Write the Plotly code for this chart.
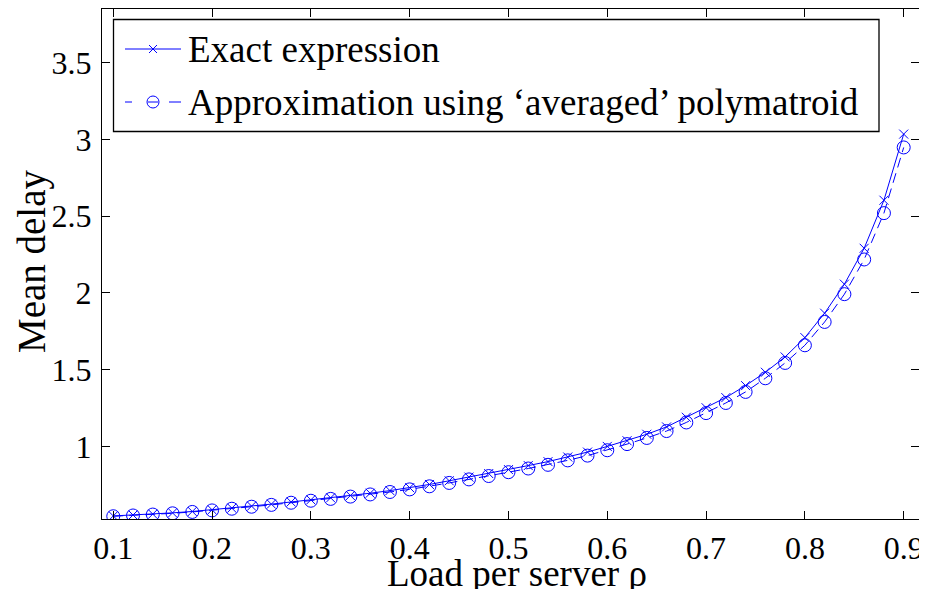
import plotly.graph_objects as go

load = [round(0.10 + 0.02 * i, 2) for i in range(41)]

exact_delay = [0.547, 0.553, 0.559, 0.567, 0.576, 0.587, 0.598, 0.611, 0.624, 0.638,
               0.652, 0.665, 0.680, 0.695, 0.712, 0.731, 0.752, 0.776, 0.800, 0.823,
               0.849, 0.875, 0.901, 0.931, 0.963, 1.000, 1.037, 1.079, 1.127, 1.190,
               1.252, 1.318, 1.396, 1.483, 1.583, 1.709, 1.868, 2.057, 2.291, 2.604,
               3.035]

approx_delay = [0.545, 0.550, 0.556, 0.564, 0.573, 0.583, 0.594, 0.607, 0.619, 0.633,
                0.646, 0.658, 0.673, 0.687, 0.703, 0.720, 0.740, 0.762, 0.785, 0.807,
                0.832, 0.856, 0.880, 0.909, 0.940, 0.975, 1.015, 1.055, 1.100, 1.156,
                1.217, 1.283, 1.355, 1.444, 1.544, 1.659, 1.811, 1.992, 2.218, 2.520,
                2.948]

x_ticks = [0.1, 0.2, 0.3, 0.4, 0.5, 0.6, 0.7, 0.8, 0.9]
x_tick_text = ["0.1", "0.2", "0.3", "0.4", "0.5", "0.6", "0.7", "0.8", "0.9"]
y_ticks = [1, 1.5, 2, 2.5, 3, 3.5]
y_tick_text = ["1", "1.5", "2", "2.5", "3", "3.5"]

legend_names = ["Exact expression", "Approximation using \u2018averaged\u2019 polymatroid"]
x_title = "Load per server \u03c1"
y_title = "Mean delay"

BLUE = "#0000ff"
FONT = "Liberation Serif"
OFF = 8  # page body margin in the browser
W, H = 927 - OFF, 589 - OFF
ML, MR, MT, MB = 94, 8, 1, 70
PW, PH = W - ML - MR, H - MT - MB


def px(x):
    # screen pixel x -> paper coordinate
    return (x - OFF - ML) / PW


def py(y):
    # screen pixel y -> paper coordinate
    return (H - MB - (y - OFF)) / PH


fig = go.Figure()
fig.add_trace(go.Scatter(
    x=load, y=exact_delay, mode="lines+markers", name=legend_names[0],
    line=dict(color=BLUE, width=1),
    marker=dict(symbol="x-thin-open", size=9, color=BLUE, line=dict(color=BLUE, width=1)),
    showlegend=False,
))
fig.add_trace(go.Scatter(
    x=load, y=approx_delay, mode="lines+markers", name=legend_names[1],
    line=dict(color=BLUE, width=1, dash="10px,6px"),
    marker=dict(symbol="circle-open", size=13, color=BLUE, line=dict(color=BLUE, width=1)),
    showlegend=False,
))

shapes = []
# legend box
shapes.append(dict(type="rect", xref="paper", yref="paper",
                   x0=px(113.5), x1=px(879), y0=py(19.5), y1=py(131.5),
                   line=dict(color="black", width=1.3), fillcolor="white", layer="above"))
# row 1: solid line with x
shapes.append(dict(type="line", xref="paper", yref="paper",
                   x0=px(125), x1=px(181), y0=py(49), y1=py(49),
                   line=dict(color=BLUE, width=1), layer="above"))
for dx0, dy0, dx1, dy1 in [(-4, -4, 4, 4), (-4, 4, 4, -4)]:
    shapes.append(dict(type="line", xref="paper", yref="paper",
                       xsizemode="pixel", ysizemode="pixel",
                       xanchor=px(153), yanchor=py(49),
                       x0=dx0, x1=dx1, y0=dy0, y1=dy1,
                       line=dict(color=BLUE, width=1), layer="above"))
# row 2: dashed line with circle
for a, b in [(125, 132), (169, 181)]:
    shapes.append(dict(type="line", xref="paper", yref="paper",
                       x0=px(a), x1=px(b), y0=py(102), y1=py(102),
                       line=dict(color=BLUE, width=1), layer="above"))
shapes.append(dict(type="line", xref="paper", yref="paper",
                   x0=px(148), x1=px(158), y0=py(102), y1=py(102),
                   line=dict(color=BLUE, width=1), layer="above"))
shapes.append(dict(type="circle", xref="paper", yref="paper",
                   xsizemode="pixel", ysizemode="pixel",
                   xanchor=px(153), yanchor=py(102),
                   x0=-6, x1=6, y0=-6, y1=6,
                   line=dict(color=BLUE, width=1), layer="above"))

annotations = [
    dict(text=legend_names[0], xref="paper", yref="paper", x=px(186), y=py(49),
         xanchor="left", yanchor="middle", showarrow=False,
         font=dict(family=FONT, size=37, color="black")),
    dict(text=legend_names[1], xref="paper", yref="paper", x=px(186), y=py(102),
         xanchor="left", yanchor="middle", showarrow=False,
         font=dict(family=FONT, size=37, color="black")),
    dict(text=x_title, xref="paper", yref="paper", x=px(517), y=py(573),
         xanchor="center", yanchor="middle", showarrow=False,
         font=dict(family=FONT, size=37, color="black")),
    dict(text=y_title, xref="paper", yref="paper", x=px(32), y=py(261),
         xanchor="center", yanchor="middle", showarrow=False, textangle=-90,
         font=dict(family=FONT, size=39, color="black")),
]

axis_common = dict(
    showgrid=False, zeroline=False, showline=True, linecolor="black", linewidth=1.3,
    mirror="ticks", ticks="inside", ticklen=8, tickcolor="black", tickwidth=1,
    tickfont=dict(family=FONT, size=32, color="black"), automargin=False,
)

fig.update_layout(
    width=W, height=H,
    margin=dict(l=ML, r=MR, t=MT, b=MB),
    paper_bgcolor="white", plot_bgcolor="white",
    shapes=shapes, annotations=annotations,
    xaxis=dict(range=[0.0886, 0.9155], tickvals=x_ticks, ticktext=x_tick_text,
               **axis_common),
    yaxis=dict(range=[0.527, 3.85], tickvals=y_ticks, ticktext=y_tick_text,
               ticklabelstandoff=3, **axis_common),
)

fig.write_html("out.html")
